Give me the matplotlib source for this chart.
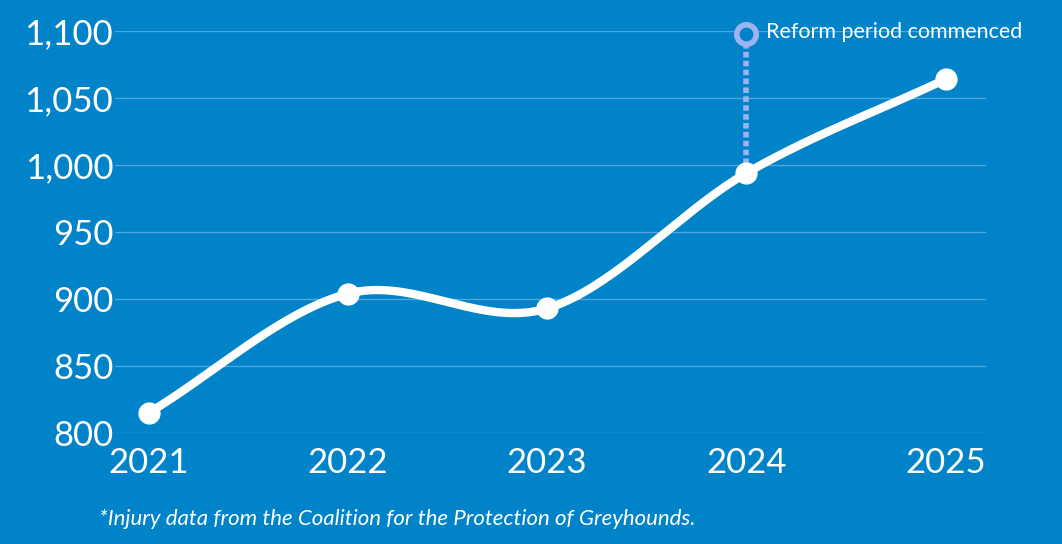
import numpy as np
import matplotlib
matplotlib.use("Agg")
import matplotlib.pyplot as plt

years = [2021, 2022, 2023, 2024, 2025]
injuries = [815, 904, 893, 994, 1064]
yticks = [800, 850, 900, 950, 1000, 1050, 1100]
reform_year = 2024
reform_label = "Reform period commenced"
footnote = "*Injury data from the Coalition for the Protection of Greyhounds."

BG = "#0083C9"


def catmull_rom(x, y, n=40):
    """Smooth path through the points (rendering only)."""
    x = np.asarray(x, float)
    y = np.asarray(y, float)
    px = np.concatenate([[2 * x[0] - x[1]], x, [2 * x[-1] - x[-2]]])
    py = np.concatenate([[2 * y[0] - y[1]], y, [2 * y[-1] - y[-2]]])
    xs, ys = [], []
    t = np.linspace(0, 1, n)
    for i in range(1, len(px) - 2):
        for p, out in ((px, xs), (py, ys)):
            p0, p1, p2, p3 = p[i - 1], p[i], p[i + 1], p[i + 2]
            out.extend(0.5 * (2 * p1 + (-p0 + p2) * t
                              + (2 * p0 - 5 * p1 + 4 * p2 - p3) * t ** 2
                              + (-p0 + 3 * p1 - 3 * p2 + p3) * t ** 3))
    return np.array(xs), np.array(ys)


plt.rcParams["font.family"] = ["Lato", "DejaVu Sans"]
fig = plt.figure(figsize=(10.62, 5.44), dpi=100, facecolor=BG)
ax = fig.add_axes([0.108, 0.204, 0.82, 0.739], facecolor=BG)

ax.set_xlim(2020.83, 2025.2)
ax.set_ylim(800, 1100)
ax.set_yticks(yticks)
ax.set_yticklabels([f"{v:,}" for v in yticks])
ax.set_xticks(years)
ax.grid(axis="y", color="#4FA6DA", lw=1)
ax.set_axisbelow(True)
for s in ax.spines.values():
    s.set_visible(False)
ax.tick_params(length=0, colors="white", labelsize=25)
ax.tick_params(axis="x", pad=10)
ax.tick_params(axis="y", pad=1)

# reform marker
ry = injuries[years.index(reform_year)]
ax.plot([reform_year, reform_year], [ry, 1098], color="#9DB3EE", lw=4,
        ls=(0, (1, 0.6)), zorder=2)
ax.plot(reform_year, 1098, "o", ms=14, mfc=BG, mec="#9DB3EE", mew=4,
        zorder=3, clip_on=False)
ax.text(reform_year + 0.1, 1099, reform_label, color="white", fontsize=15.5,
        va="center", ha="left")

sx, sy = catmull_rom(years, injuries)
ax.plot(sx, sy, color="white", lw=6, solid_capstyle="round", zorder=4)
ax.plot(years, injuries, "o", color="white", ms=15, zorder=5)

fig.text(0.093, 0.035, footnote, color="white", fontsize=16,
         style="italic")

fig.savefig("out.png", dpi=100, facecolor=BG)
